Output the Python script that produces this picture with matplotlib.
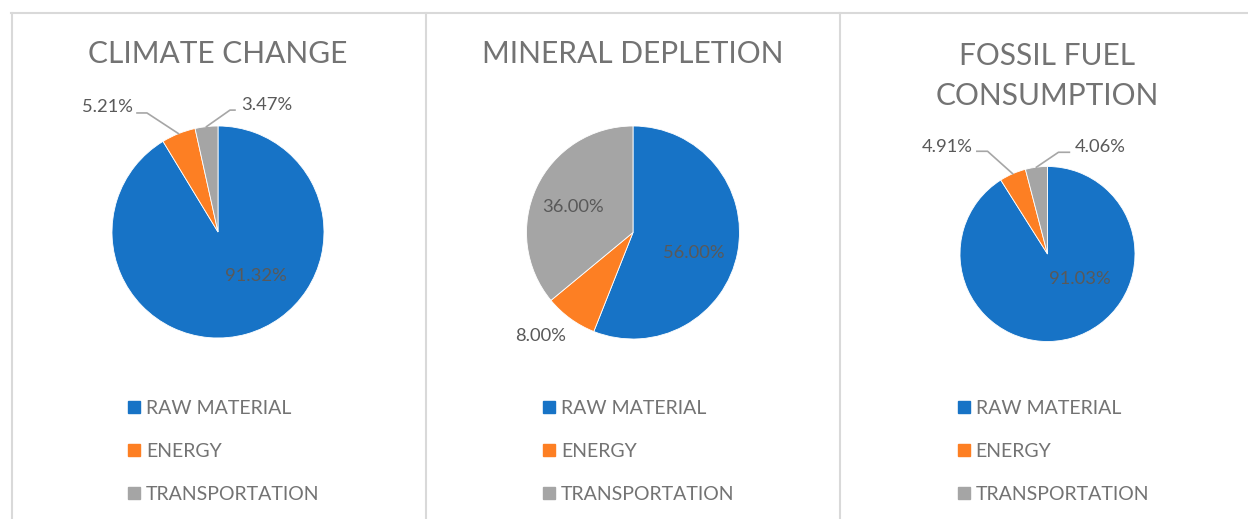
import matplotlib.pyplot as plt
from matplotlib.lines import Line2D
from matplotlib.patches import Rectangle
import numpy as np

titles = ['CLIMATE CHANGE', 'MINERAL DEPLETION', 'FOSSIL FUEL\nCONSUMPTION']
categories = ['RAW MATERIAL', 'ENERGY', 'TRANSPORTATION']
climate_change = [91.32, 5.21, 3.47]
mineral_depletion = [56.00, 8.00, 36.00]
fossil_fuel = [91.03, 4.91, 4.06]
series = [climate_change, mineral_depletion, fossil_fuel]
colors = ['#1773C6', '#FD7F23', '#A5A5A5']

W, H = 1248, 519
plt.rcParams['font.family'] = ['Lato', 'DejaVu Sans']

# layout in pixels: pie center x, center y, radius
pies = [(218, 232, 106), (633, 232.5, 106.5), (1047.5, 254, 87.5)]
title_y = [54, 54, 76]
# data label placement (radius units): (ha, x, y)
label_pos = [
    [('center', 0.36, -0.415), ('right', -0.80, 1.18), ('left', 0.217, 1.20)],
    [('center', 0.575, -0.19), ('center', -0.87, -0.972), ('center', -0.563, 0.24)],
    [('center', 0.364, -0.284), ('right', -0.85, 1.227), ('left', 0.307, 1.219)],
]
# leader lines: points from text toward the wedge, None = no line
leaders = [
    [None, [(-0.764, 1.123), (-0.67, 1.123)], [(0.16, 1.15), (0.113, 1.15)]],
    [None, None, None],
    [None, [(-0.807, 1.174), (-0.685, 1.174)], [(0.25, 1.1625), (0.125, 1.1625)]],
]

fig = plt.figure(figsize=(W / 100, H / 100), dpi=100)

txt = '#737373'
lbl = '#595959'
grid = '#d9d9d9'

# panel borders
fig.add_artist(Line2D([11 / W, 1], [1 - 13.3 / H] * 2, color=grid, lw=1.5))
for x in [11.7, 425.7, 840]:
    fig.add_artist(Line2D([x / W] * 2, [0, 1 - 13.3 / H], color=grid, lw=1.5))

k = 1.6
for i, (vals, (cx, cy, r)) in enumerate(zip(series, pies)):
    ax = fig.add_axes([(cx - k * r) / W, (H - cy - k * r) / H, 2 * k * r / W, 2 * k * r / H])
    wedges, _ = ax.pie(vals, colors=colors, startangle=90, counterclock=False,
                       radius=1, wedgeprops=dict(linewidth=0.6, edgecolor='white'))
    ax.set_xlim(-k, k)
    ax.set_ylim(-k, k)
    ax.set_aspect('equal')
    ax.axis('off')

    for j, v in enumerate(vals):
        ha, lx, ly = label_pos[i][j]
        ax.text(lx, ly, f'{v:.2f}%', ha=ha, va='center', fontsize=13.2, color=lbl)
        if leaders[i][j] is not None:
            w = wedges[j]
            mid = np.deg2rad((w.theta1 + w.theta2) / 2)
            pts = leaders[i][j] + [(np.cos(mid), np.sin(mid))]
            xs, ys = zip(*pts)
            ax.plot(xs, ys, color='#a6a6a6', lw=1.2, clip_on=False)

    fig.text(cx / W, 1 - title_y[i] / H, titles[i], ha='center', va='center',
             fontsize=21.5, color=txt, linespacing=1.5)

    # legend
    for j, cat in enumerate(categories):
        ry = [407, 450, 493][j]
        fig.add_artist(Rectangle(((cx - 90) / W, 1 - (ry + 6) / H), 12 / W, 12 / H,
                                 color=colors[j], transform=fig.transFigure))
        fig.text((cx - 72) / W, 1 - (ry + 1.5) / H, cat, ha='left', va='center',
                 fontsize=14, color=txt)

fig.savefig('out.png', dpi=100)
